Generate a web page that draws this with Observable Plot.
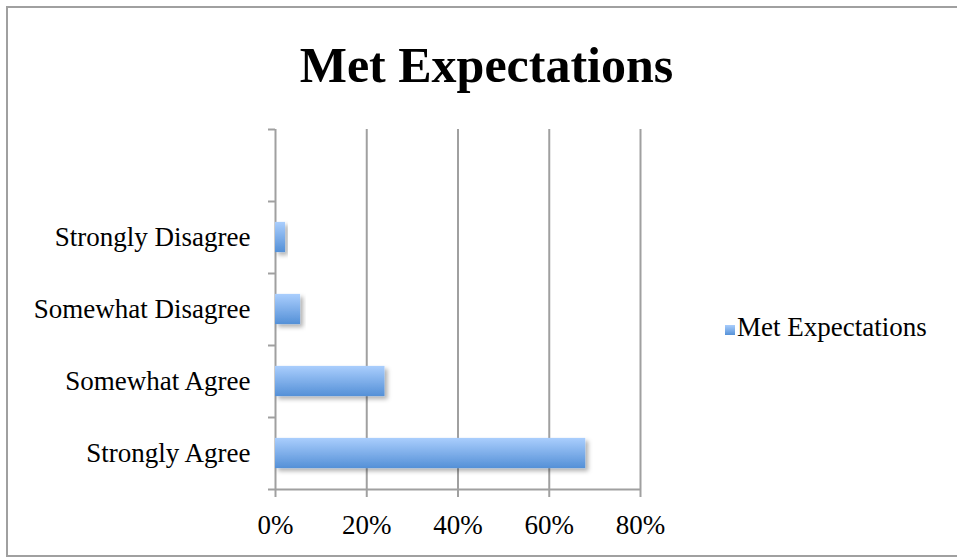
<!DOCTYPE html>
<html>
<head>
<meta charset="utf-8">
<script src="https://cdn.jsdelivr.net/npm/d3@7"></script>
<script src="https://cdn.jsdelivr.net/npm/@observablehq/plot@0.6"></script>
<style>
  body { margin: 0; background: #fff; font-family: "Liberation Serif", serif; color: #000; }
  #frame { position: relative; width: 957px; height: 558px; overflow: hidden; }
  #border { position: absolute; left: 6px; top: 6px; width: 960px; height: 551px; border: 2px solid #a0a0a0; box-sizing: border-box; }
  #title { position: absolute; left: 0; top: 40px; width: 973px; text-align: center; font-weight: bold; font-size: 50px; line-height: 1; }
  #chart { position: absolute; left: 0; top: 100px; }
  #legend { position: absolute; left: 725px; top: 314px; font-size: 27px; line-height: 1; white-space: nowrap; }
  #legend .sw { position: absolute; left: 0; top: 11px; width: 10px; height: 10px; background: linear-gradient(#a9cdfc, #5692d8); }
  #legend .lb { position: absolute; left: 12px; top: 0; }
</style>
</head>
<body>
<div id="frame">
  <div id="border"></div>
  <div id="title"></div>
  <div id="chart"></div>
  <div id="legend"><span class="sw"></span><span class="lb"></span></div>
</div>
<script>
// Responses, listed from the bottom row upward
const categories = ["Strongly Agree", "Somewhat Agree", "Somewhat Disagree", "Strongly Disagree"];
const shares = [0.68, 0.24, 0.055, 0.022];
const xTicks = [0, 0.2, 0.4, 0.6, 0.8];
const rowEdges = [0, 1, 2, 3, 4, 5];
const seriesName = "Met Expectations";

const rows = categories.map((name, i) => ({name, row: i, value: shares[i]}));

document.getElementById("title").textContent = seriesName;
document.querySelector("#legend .lb").textContent = seriesName;

const grid = "#a0a0a0";
const pct = d3.format(".0%");

const chart = Plot.plot({
  width: 957,
  height: 458,
  marginLeft: 275,
  marginRight: 317,
  marginTop: 29,
  marginBottom: 69,
  style: {fontSize: "27px", fontFamily: "Liberation Serif, serif", background: "transparent", overflow: "visible"},
  x: {domain: [0, 0.8], label: null},
  y: {domain: [0, 5], label: null},
  marks: [
    Plot.ruleX(xTicks.slice(1), {stroke: grid, strokeWidth: 2}),
    Plot.ruleX([0], {stroke: grid, strokeWidth: 2}),
    Plot.ruleY([0], {stroke: grid, strokeWidth: 2}),
    // tick marks at the row boundaries
    Plot.axisY({ticks: rowEdges, tickSize: 7, tickFormat: () => "", stroke: grid, strokeWidth: 2, label: null}),
    // category labels centred in each row
    Plot.axisY({ticks: rows.map(d => d.row + 0.5), tickSize: 0, tickPadding: 25,
      tickFormat: v => categories[Math.floor(v)], fill: "#000", label: null}),
    Plot.axisX({ticks: xTicks, tickSize: 8, tickFormat: () => "", stroke: grid, strokeWidth: 2, label: null}),
    Plot.axisX({ticks: xTicks, tickSize: 0, tickPadding: 25, tickFormat: pct, fill: "#000", label: null}),
    Plot.rect(rows, {
      x1: 0,
      x2: "value",
      y1: d => d.row + 0.29,
      y2: d => d.row + 0.71,
      fill: "url(#barFill)"
    })
  ]
});

// gradient and soft shadow for the bars
const svg = d3.select(chart);
const defs = svg.insert("defs", ":first-child");
const g = defs.append("linearGradient").attr("id", "barFill")
  .attr("x1", 0).attr("y1", 0).attr("x2", 0).attr("y2", 1);
g.append("stop").attr("offset", "0%").attr("stop-color", "#aacefd");
g.append("stop").attr("offset", "100%").attr("stop-color", "#5490d7");
const f = defs.append("filter").attr("id", "barShadow")
  .attr("x", "-10%").attr("y", "-30%").attr("width", "130%").attr("height", "190%");
f.append("feDropShadow").attr("dx", 3).attr("dy", 3).attr("stdDeviation", 2)
  .attr("flood-color", "#000").attr("flood-opacity", 0.3);
svg.selectAll("g[aria-label='rect'] rect").attr("filter", "url(#barShadow)");

document.getElementById("chart").appendChild(chart);
</script>
</body>
</html>
